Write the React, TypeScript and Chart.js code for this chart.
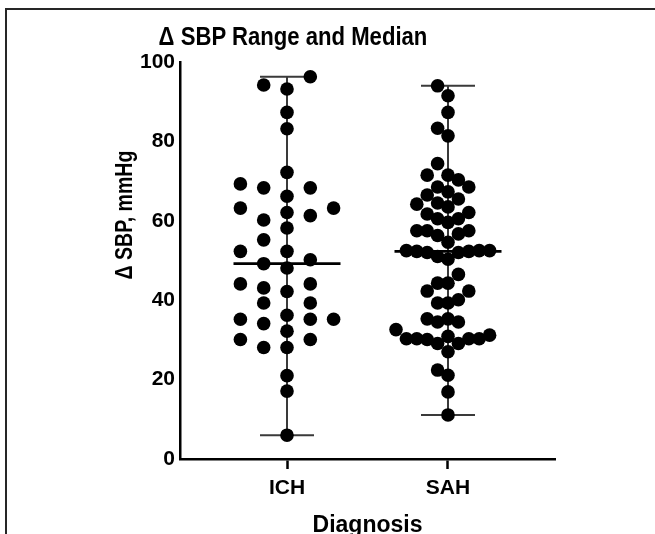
import React, { useEffect, useRef } from 'react';
import { Chart, registerables } from 'chart.js';

Chart.register(...registerables);

// ---------------- data ----------------
const categories = ['ICH', 'SAH'];

const ichValues = [
  96.3, 94.2, 93.2, 87.3, 83.2, 72.2, 69.3, 68.3, 68.3, 66.2, 63.2, 63.2, 62.1, 61.3,
  60.2, 58.2, 55.2, 52.3, 52.3, 50.2, 49.2, 48.1, 44.1, 44.1, 43.1, 42.2, 39.3, 39.3,
  36.2, 35.2, 35.2, 35.2, 34.1, 32.2, 30.1, 30.1, 28.1, 28.1, 21.0, 17.1, 6.0,
];

const sahValues = [
  94.0, 91.5, 87.3, 83.3, 81.4, 74.4, 71.5, 70.3, 71.5, 68.5, 68.5, 67.3, 66.5, 65.5,
  64.5, 63.5, 64.2, 62.1, 61.7, 60.5, 60.5, 59.6, 57.5, 57.5, 57.5, 56.7, 56.3, 54.6,
  52.5, 52.3, 52.0, 52.0, 52.3, 52.5, 52.5, 51.0, 50.3, 46.5, 44.3, 44.3, 42.3, 42.3,
  40.1, 39.3, 39.3, 34.5, 35.3, 35.3, 34.5, 32.6, 31.2, 30.3, 30.3, 29.1, 29.1, 30.9,
  30.3, 30.3, 30.1, 27.0, 22.4, 21.1, 16.9, 11.1,
];

const seriesValues = [ichValues, sahValues];

const yMin = 0;
const yMax = 100;
const yStep = 20;

const titleText = 'Δ SBP Range and Median';
const yTitleText = 'Δ SBP, mmHg';
const xTitleText = 'Diagnosis';

// ---------------- styles / layout constants ----------------
const FONT = '"Liberation Sans", Arial, Helvetica, sans-serif';
const COLUMN_STEP_PX = [23.3, 10.4]; // horizontal spacing of swarm columns per group
const MIN_GAP_PX = 14.8; // vertical spacing of dots in one column
const DOT_RADIUS = 6.8;
const CAP_HALF_PX = 27;
const MEDIAN_HALF_PX = 53.5;

function median(vals: number[]): number {
  const s = [...vals].sort((a, b) => a - b);
  const n = s.length;
  return n % 2 ? s[(n - 1) / 2] : (s[n / 2 - 1] + s[n / 2]) / 2;
}

// simple column beeswarm: ascending order, nearest free column (0, -1, +1, -2, +2 ...)
function swarmOffsets(vals: number[], toPx: (v: number) => number, step: number, gap: number): number[] {
  const order = vals.map((_, i) => i).sort((a, b) => vals[a] - vals[b]);
  const colTop = new Map<number, number>();
  const out = new Array(vals.length).fill(0);
  for (const i of order) {
    const py = toPx(vals[i]);
    for (let n = 0; n < 200; n++) {
      const k = n === 0 ? 0 : n % 2 === 1 ? -Math.ceil(n / 2) : Math.ceil(n / 2);
      const last = colTop.get(k);
      if (last === undefined || last - py >= gap) {
        colTop.set(k, py);
        out[i] = k * step;
        break;
      }
    }
  }
  return out;
}

const rangeMedianPlugin = {
  id: 'rangeMedian',
  beforeDatasetsDraw(chart: any) {
    const { ctx, scales } = chart;
    const xs = scales.x;
    const ys = scales.y;
    ctx.save();
    ctx.strokeStyle = '#3a3a3a';
    ctx.lineWidth = 2;
    seriesValues.forEach((vals, ci) => {
      const cx = xs.getPixelForValue(ci + 1);
      const yTop = ys.getPixelForValue(Math.max(...vals));
      const yBot = ys.getPixelForValue(Math.min(...vals));
      ctx.beginPath();
      ctx.moveTo(cx, yTop);
      ctx.lineTo(cx, yBot);
      ctx.moveTo(cx - CAP_HALF_PX, yTop);
      ctx.lineTo(cx + CAP_HALF_PX, yTop);
      ctx.moveTo(cx - CAP_HALF_PX, yBot);
      ctx.lineTo(cx + CAP_HALF_PX, yBot);
      ctx.stroke();
    });
    ctx.restore();
  },
  afterDatasetsDraw(chart: any) {
    const { ctx, scales } = chart;
    const xs = scales.x;
    const ys = scales.y;
    ctx.save();
    ctx.strokeStyle = '#000';
    ctx.lineWidth = 2.8;
    seriesValues.forEach((vals, ci) => {
      const cx = xs.getPixelForValue(ci + 1);
      const ym = ys.getPixelForValue(median(vals));
      ctx.beginPath();
      ctx.moveTo(cx - MEDIAN_HALF_PX, ym);
      ctx.lineTo(cx + MEDIAN_HALF_PX, ym);
      ctx.stroke();
    });
    ctx.restore();
  },
};

export default function App() {
  const canvasRef = useRef<HTMLCanvasElement | null>(null);

  useEffect(() => {
    const canvas = canvasRef.current;
    if (!canvas) return;
    const tickFont = { family: FONT, size: 21, weight: 'bold' as const };

    const chart = new Chart(canvas, {
      type: 'scatter',
      data: {
        datasets: seriesValues.map((vals, ci) => ({
          label: categories[ci],
          data: vals.map((v) => ({ x: ci + 1, y: v })),
          backgroundColor: '#000',
          borderColor: '#000',
          borderWidth: 0,
          pointRadius: DOT_RADIUS,
          pointHoverRadius: DOT_RADIUS,
        })),
      },
      options: {
        responsive: false,
        animation: false,
        events: [],
        layout: { padding: { left: 120, right: 100, top: 62, bottom: 0 } },
        plugins: {
          legend: { display: false },
          tooltip: { enabled: false },
          title: { display: false },
        },
        scales: {
          x: {
            type: 'linear',
            min: 0.3354,
            max: 2.6646,
            afterBuildTicks: (s: any) => {
              s.ticks = categories.map((_, i) => ({ value: i + 1 }));
            },
            afterFit: (s: any) => {
              s.height = 75;
            },
            ticks: {
              autoSkip: false,
              maxRotation: 0,
              padding: 7,
              color: '#000',
              font: tickFont,
              callback: (v: any) => categories[Math.round(Number(v)) - 1] ?? '',
            },
            grid: {
              display: true,
              drawOnChartArea: false,
              drawTicks: true,
              tickLength: 10,
              tickWidth: 2.5,
              tickColor: '#000',
            },
            border: { display: true, color: '#000', width: 2.5 },
            title: {
              display: true,
              text: xTitleText,
              color: '#000',
              font: { family: FONT, size: 23, weight: 'bold', lineHeight: 1 },
              padding: { top: 0, bottom: -3 },
            },
          },
          y: {
            min: yMin,
            max: yMax,
            afterFit: (s: any) => {
              s.width = 60;
            },
            ticks: {
              stepSize: yStep,
              padding: 5,
              color: '#000',
              font: tickFont,
            },
            grid: { display: false, drawTicks: false },
            border: { display: true, color: '#000', width: 2.5 },
          },
        },
      },
      plugins: [rangeMedianPlugin],
    } as any);

    // lay out the swarm through the chart's own scales
    const xs: any = chart.scales.x;
    const ys: any = chart.scales.y;
    const pxPerUnit = xs.getPixelForValue(1) - xs.getPixelForValue(0);
    seriesValues.forEach((vals, ci) => {
      const offs = swarmOffsets(vals, (v) => ys.getPixelForValue(v), COLUMN_STEP_PX[ci], MIN_GAP_PX);
      (chart.data.datasets[ci] as any).data = vals.map((v, i) => ({ x: ci + 1 + offs[i] / pxPerUnit, y: v }));
    });
    chart.update();

    return () => chart.destroy();
  }, []);

  return (
    <div style={{ position: 'fixed', left: 0, top: 0, width: 655, height: 534, background: '#fff', overflow: 'hidden' }}>
      <div
        style={{
          position: 'absolute',
          left: 5,
          top: 8,
          right: 0,
          bottom: 0,
          borderTop: '2px solid #262626',
          borderLeft: '2px solid #262626',
          pointerEvents: 'none',
        }}
      />
      <canvas ref={canvasRef} width={655} height={534} style={{ position: 'absolute', left: 0, top: 0, width: 655, height: 534 }} />
      <div
        style={{
          position: 'absolute',
          left: 0,
          top: 24,
          width: 586,
          textAlign: 'center',
          fontFamily: FONT,
          fontWeight: 'bold',
          fontSize: 25,
          lineHeight: '25px',
          color: '#000',
          whiteSpace: 'nowrap',
          transform: 'scaleX(0.885)',
          transformOrigin: 'center',
        }}
      >
        {titleText}
      </div>
      <div
        style={{
          position: 'absolute',
          left: 24,
          top: 200,
          width: 200,
          height: 30,
          textAlign: 'center',
          fontFamily: FONT,
          fontWeight: 'bold',
          fontSize: 23,
          lineHeight: '30px',
          color: '#000',
          whiteSpace: 'nowrap',
          transform: 'rotate(-90deg) scaleX(0.85)',
          transformOrigin: 'center',
        }}
      >
        {yTitleText}
      </div>
    </div>
  );
}
